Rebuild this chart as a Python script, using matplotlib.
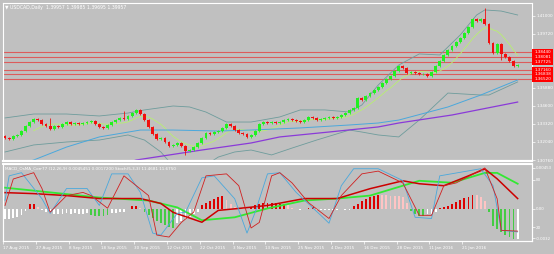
import numpy as np
import matplotlib.pyplot as plt
from matplotlib.patches import Rectangle
from matplotlib.transforms import blended_transform_factory

# ---- price data (USDCAD daily), open = previous close ----
closes = [1.3232, 1.3225, 1.3247, 1.3254, 1.3282, 1.3318, 1.3346, 1.3368, 1.3360, 1.3332,
          1.3318, 1.3296, 1.3318, 1.3311, 1.3332, 1.3346, 1.3332, 1.3339, 1.3332, 1.3339,
          1.3346, 1.3353, 1.3332, 1.3311, 1.3304, 1.3325, 1.3346, 1.3360, 1.3375, 1.3368,
          1.3389, 1.3410, 1.3432, 1.3403, 1.3360, 1.3311, 1.3261, 1.3225, 1.3232, 1.3204,
          1.3176, 1.3183, 1.3197, 1.3176, 1.3140, 1.3147, 1.3168, 1.3197, 1.3232, 1.3268,
          1.3261, 1.3275, 1.3282, 1.3304, 1.3332, 1.3318, 1.3289, 1.3268, 1.3261, 1.3240,
          1.3254, 1.3282, 1.3332, 1.3346, 1.3339, 1.3346, 1.3339, 1.3346, 1.3360, 1.3368,
          1.3360, 1.3353, 1.3346, 1.3360, 1.3382, 1.3375, 1.3360, 1.3368, 1.3375, 1.3382,
          1.3375, 1.3382, 1.3396, 1.3410, 1.3432, 1.3446, 1.3517, 1.3503, 1.3531, 1.3552,
          1.3574, 1.3595, 1.3623, 1.3652, 1.3673, 1.3709, 1.3744, 1.3730, 1.3695, 1.3702,
          1.3695, 1.3687, 1.3687, 1.3673, 1.3702, 1.3744, 1.3780, 1.3823, 1.3858, 1.3887,
          1.3915, 1.3943, 1.3979, 1.4022, 1.4079, 1.4064, 1.4079, 1.4043, 1.3908, 1.3837,
          1.3901, 1.3830, 1.3808, 1.3780, 1.3744, 1.3751]
first_open = 1.3247
high_over = {11: 1.3375, 29: 1.3424, 117: 1.4157}
low_over = {44: 1.3111, 121: 1.3787}

# indicator lines (bar index, value)
bb_up_idx = [0, 7, 15, 23, 30, 34, 41, 45, 49, 54, 60, 67, 72, 78, 84, 87, 91, 96, 101, 106, 111, 115, 117, 121, 125]
bb_up = [1.3375, 1.3403, 1.3403, 1.3389, 1.3410, 1.3432, 1.3460, 1.3453, 1.3417, 1.3346, 1.3346, 1.3382, 1.3432,
         1.3432, 1.3417, 1.3467, 1.3609, 1.3751, 1.3830, 1.3823, 1.3965, 1.4107, 1.4143, 1.4135, 1.4107]
bb_lo_idx = [0, 7, 15, 23, 30, 34, 38, 41, 45, 49, 52, 56, 60, 65, 70, 76, 84, 87, 91, 96, 101, 108, 116, 118, 125]
bb_lo = [1.3133, 1.3183, 1.3204, 1.3218, 1.3254, 1.3218, 1.3133, 1.3033, 1.3019, 1.3040, 1.3097, 1.3133, 1.3147,
         1.3112, 1.3161, 1.3218, 1.3289, 1.3275, 1.3254, 1.3240, 1.3360, 1.3552, 1.3538, 1.3538, 1.3631]
ma_blue_idx = [0, 7, 15, 23, 33, 41, 52, 60, 72, 84, 91, 96, 108, 116, 125]
ma_blue = [1.3019, 1.3076, 1.3168, 1.3240, 1.3289, 1.3289, 1.3282, 1.3289, 1.3304, 1.3325, 1.3339, 1.3360,
           1.3453, 1.3538, 1.3645]
ma_purple_idx = [28, 32, 48, 60, 67, 79, 91, 96, 109, 125]
ma_purple = [1.3040, 1.3076, 1.3147, 1.3197, 1.3240, 1.3275, 1.3311, 1.3339, 1.3396, 1.3488]

levels = [1.3844, 1.3808, 1.3773, 1.3716, 1.3684, 1.3652]
level_labels = ["1.38440", "1.38081", "1.37725", "1.37160", "1.36838", "1.36520"]
price_ticks = [1.41000, 1.39720, 1.35880, 1.34600, 1.33320, 1.32040, 1.30760]

# lower panel: OsMA histogram (x1e-4) + colour code, MACD lines, stochastic
osma = [-10, -10, -9, -8, -6, -2, 5, 5, 2, -1, -3, -4, -5, -5, -5, -4, -5, -4, -5, -5,
        -4, -6, -7, -7, -7, -6, -4, -4, -3, -3, 0, 3, 3, 1, -3, -6, -9, -12, -14, -16,
        -18, -19, -14, -12, -10, -8, -5, -3, 4, 6, 8, 10, 12, 13, 9, 5, 2, 1, 1, 0,
        2, 4, 5, 6, 6, 6, 6, 5, 5, 4, 1, 0, -1, 0, 1, 2, -1, -1, -1, -1,
        -1, -1, 0, -1, -1, 3, 5, 8, 10, 12, 13, 14, 14, 14, 13, 13, 13, 12, 6, -2,
        -5, -7, -7, -5, -5, -3, 1, 2, 3, 5, 7, 9, 11, 12, 14, 14, 12, 8, -3, -17,
        -20, -23, -26, -28, -30, -30]
osma_col = ("wwwwww" "rr" "p" "wwwwwwwwwwww" "ggggg" "wwwww" "rr" "p" "gggggggg" "wwwwww"
            "rrrrrr" "ppppp" "w" "rrrrrrrrr" "pp" "www" "rr" "wwwwwwwww" "rrrrrrr" "ppppppp"
            "gggg" "www" "rrrrrrrrr" "ppp" "ggggggg" "w")
macd_idx = [0, 7, 15, 23, 33, 38, 41, 48, 52, 57, 64, 73, 81, 89, 97, 101, 107, 113, 117, 120, 125]
macd = [16.5, 15.5, 13.5, 10.5, 10.5, 5.5, -3.5, -13.5, -1.5, 0.5, 3.5, 10.5, 10.5, 20.5, 28.5, 25.5,
        23.5, 33.5, 40.5, 30.5, 10.5]
signal_idx = [0, 7, 23, 35, 42, 48, 56, 64, 73, 81, 89, 97, 101, 109, 117, 120, 125]
signal = [21.5, 18.5, 11.5, 8.5, 1.5, -11.5, -8.5, 0.5, 8.5, 10.5, 13.5, 23.5, 28.5, 26.5, 36.5, 36.5, 25.5]
stk_idx = [0, 2, 7, 9, 11, 15, 19, 21, 25, 29, 32, 35, 37, 40, 43, 46, 49, 54, 57, 60, 62, 65, 67, 70,
           74, 79, 82, 87, 91, 97, 101, 104, 107, 110, 117, 120, 121, 125]
stk = [47.5, 81, 89, 69, 39, 60, 64, 60, 44, 85, 72.5, 60, 10, 7.5, 26, 39, 85, 87.5, 72.5, 19, 26, 85, 89, 76,
       51, 31, 60, 87.5, 91, 76, 35, 35, 72.5, 76, 95, 56, 16, 15]
std_idx = [0, 1, 4, 9, 11, 15, 20, 23, 26, 30, 33, 36, 38, 42, 44, 48, 51, 56, 59, 61, 64, 67, 71, 77,
           79, 82, 85, 91, 97, 100, 104, 106, 116, 119, 121, 125]
std = [54, 85, 89, 56, 37.5, 69, 69, 47.5, 87.5, 87.5, 64, 12.5, 10, 37.5, 39, 82.5, 85, 56, 12.5, 39,
       87.5, 89, 64, 35, 25, 72.5, 94, 94, 79, 32.5, 31, 85, 94, 72.5, 16, 14]

dates = ["17 Aug 2015", "27 Aug 2015", "8 Sep 2015", "18 Sep 2015", "30 Sep 2015", "12 Oct 2015",
         "22 Oct 2015", "3 Nov 2015", "13 Nov 2015", "25 Nov 2015", "4 Dec 2015", "16 Dec 2015",
         "28 Dec 2015", "11 Jan 2016", "21 Jan 2016"]

BG = "#c0c0c0"
W, H = 554, 254
fig = plt.figure(figsize=(W / 100, H / 100), dpi=100, facecolor=BG)
ax1 = fig.add_axes([3 / W, 1 - 161 / H, 529 / W, 158 / H], facecolor=BG)
ax2 = fig.add_axes([3 / W, 1 - 241 / H, 529 / W, 77 / H], facecolor=BG)
XL = (-0.49, 128.5)

# ---- top panel ----
n = len(closes)
x = np.arange(n)
opens = [first_open] + closes[:-1]
for i in range(n):
    o, c = opens[i], closes[i]
    col = "#22f022" if c >= o else "#f01010"
    hi = high_over.get(i, max(o, c) + 0.0005)
    lo = low_over.get(i, min(o, c) - 0.0005)
    ax1.vlines(i, lo, hi, color=col, lw=0.6, zorder=3)
    ax1.bar(i, max(abs(c - o), 0.0003), bottom=min(o, c), width=0.7, color=col, lw=0, zorder=4)

ma_fast = np.convolve(closes, np.ones(8) / 8, mode="valid")
ax1.plot(np.arange(7, n), ma_fast, color="#b8f070", lw=0.6, zorder=2)
ax1.plot(bb_up_idx, bb_up, color="#6e9c9c", lw=0.6, zorder=2)
ax1.plot(bb_lo_idx, bb_lo, color="#6e9c9c", lw=0.6, zorder=2)
ax1.plot(ma_blue_idx, ma_blue, color="#4aa8dc", lw=0.7, zorder=2)
ax1.plot(ma_purple_idx, ma_purple, color="#8a3ad8", lw=0.9, zorder=2)
for lv in levels:
    ax1.axhline(lv, color="#dc5c5c", lw=0.8, zorder=1)

ax1.set_xlim(*XL)
ax1.set_ylim(1.30689, 1.41923)
ax1.set_xticks([])
ax1.yaxis.tick_right()
ax1.set_yticks(price_ticks)
ax1.set_yticklabels([f"{t:.5f}" for t in price_ticks])
ax1.tick_params(axis="y", colors="white", labelsize=3, length=2, width=0.5, pad=1)

tr1 = blended_transform_factory(ax1.transAxes, ax1.transData)
for lv, lab in zip(levels, level_labels):
    ax1.add_patch(Rectangle((1.0, lv - 0.0018), 21 / 529, 0.0036, transform=tr1,
                            facecolor="#ff0000", edgecolor="none", clip_on=False, zorder=6))
    ax1.text(1.004, lv, lab, transform=tr1, color="white", fontsize=3, va="center",
             ha="left", zorder=7, clip_on=False)

ax1.text(0.004, 0.985, "\u25bc USDCAD,Daily  1.39957 1.39985 1.39695 1.39957",
         transform=ax1.transAxes, color="white", fontsize=3.3, va="top", ha="left")

# ---- lower panel ----
cmap = {"w": "#ffffff", "r": "#dd0000", "p": "#ffc4c4", "g": "#44cc44"}
vals = np.array(osma) * 1e-4
ax2.bar(x, vals, width=0.45, color=[cmap[ch] for ch in osma_col], lw=0, zorder=2)
ax2.plot(signal_idx, np.array(signal) * 1e-4, color="#33e833", lw=1.3, zorder=4)
ax2.plot(macd_idx, np.array(macd) * 1e-4, color="#cc0000", lw=1.1, zorder=5)
ax2.set_xlim(*XL)
ax2.set_ylim(-0.00325, 0.00455)

ax3 = ax2.twinx()
ax3.plot(std_idx, std, color="#4aa8dc", lw=0.6, zorder=3)
ax3.plot(stk_idx, stk, color="#d02020", lw=0.6, zorder=3)
ax3.set_xlim(*XL)
ax3.set_ylim(2.5, 100)
ax3.set_yticks([80, 20])
ax3.set_yticklabels(["80", "20"])
ax3.tick_params(axis="y", colors="white", labelsize=3, length=2, width=0.5, pad=1)

# twinx moves the main ticks to the left, put them back on the right
ax2.yaxis.tick_right()
ax2.set_yticks([0.00415, 0.0, -0.00295])
ax2.set_yticklabels(["0.00453", "0.00", "-0.0032"])
ax2.tick_params(axis="y", colors="white", labelsize=2.8, length=2, width=0.5, pad=1)

ax2.set_xticks(np.arange(len(dates)) * 8 - 0.5)
ax2.set_xticklabels(dates)
ax2.tick_params(axis="x", colors="white", labelsize=3, length=2, width=0.5, pad=1.5)
for lbl in ax2.get_xticklabels():
    lbl.set_ha("left")

ax2.text(0.004, 0.97, "MACD_OsMA_Corr77 (12,26,9) 0.0045451 0.0017200 Stoch(5,3,3) 11.4681 11.6750",
         transform=ax2.transAxes, color="white", fontsize=3, va="top", ha="left", zorder=8)

for a in (ax1, ax2, ax3):
    for s in a.spines.values():
        s.set_color("white")
        s.set_linewidth(0.8)
ax1.spines["bottom"].set_linewidth(1.6)
ax2.spines["top"].set_linewidth(1.4)

fig.savefig("out.png", dpi=100, facecolor=BG)
